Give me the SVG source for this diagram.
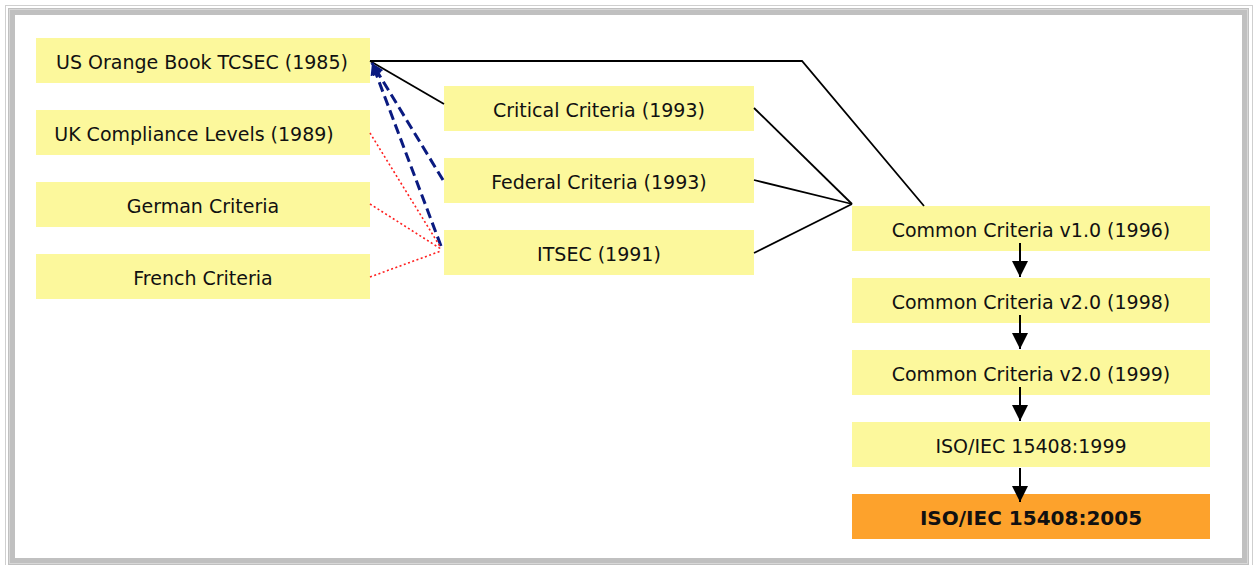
<svg xmlns="http://www.w3.org/2000/svg" width="1259" height="565" viewBox="0 0 1259 565">
  <style>
    .box { fill: #fcf89c; }
    .final { fill: #fda22c; }
    .lbl { font-family: "DejaVu Sans", Verdana, sans-serif; font-size: 19px; fill: #111; text-anchor: middle; }
    .bold { font-weight: bold; font-size: 20px; }
    .solid { fill: none; stroke: #000; stroke-width: 1.8; }
    .dash { fill: none; stroke: #0a1a80; stroke-width: 3; stroke-dasharray: 10 5; }
    .dot { fill: none; stroke: #ff2020; stroke-width: 1.6; stroke-dasharray: 2 2.5; }
    .step { fill: none; stroke: #000; stroke-width: 2; }
  </style>
  <defs>
    <marker id="navyHead" viewBox="0 0 10 10" refX="10" refY="5" markerWidth="4" markerHeight="4" orient="auto" markerUnits="strokeWidth">
      <path d="M0,0 L10,5 L0,10 Z" fill="#0a1a80"/>
    </marker>
    <marker id="blackHead" viewBox="0 0 16 16" refX="16" refY="8" markerWidth="16" markerHeight="16" orient="auto" markerUnits="userSpaceOnUse">
      <path d="M0,0 L16,8 L0,16 Z" fill="#000"/>
    </marker>
  </defs>

  <!-- page frame -->
  <rect x="0" y="0" width="1259" height="565" fill="#fff"/>
  <rect x="5.5" y="5.5" width="1247" height="570" fill="none" stroke="#cfcfcf" stroke-width="1"/>
  <rect x="11.5" y="11.5" width="1234" height="550" fill="none" stroke="#c0c0c0" stroke-width="7"/>
  <rect x="9.5" y="9.5" width="1238" height="554" fill="none" stroke="#d8d8d8" stroke-width="1"/>

  <!-- boxes -->
  <g id="us-orange-book"><rect class="box" x="36" y="38" width="334" height="45"/><text class="lbl" x="202" y="68.5">US Orange Book TCSEC (1985)</text></g>
  <g id="uk-compliance"><rect class="box" x="36" y="110" width="334" height="45"/><text class="lbl" x="194" y="140.5">UK Compliance Levels (1989)</text></g>
  <g id="german-criteria"><rect class="box" x="36" y="182" width="334" height="45"/><text class="lbl" x="203" y="212.5">German Criteria</text></g>
  <g id="french-criteria"><rect class="box" x="36" y="254" width="334" height="45"/><text class="lbl" x="203" y="284.5">French Criteria</text></g>

  <g id="critical-criteria"><rect class="box" x="444" y="86" width="310" height="45"/><text class="lbl" x="599" y="117">Critical Criteria (1993)</text></g>
  <g id="federal-criteria"><rect class="box" x="444" y="158" width="310" height="45"/><text class="lbl" x="599" y="189">Federal Criteria (1993)</text></g>
  <g id="itsec"><rect class="box" x="444" y="230" width="310" height="45"/><text class="lbl" x="599" y="261">ITSEC (1991)</text></g>

  <g id="cc-v1-0"><rect class="box" x="852" y="206" width="358" height="45"/><text class="lbl" x="1031" y="237">Common Criteria v1.0 (1996)</text></g>
  <g id="cc-v2-0-1998"><rect class="box" x="852" y="278" width="358" height="45"/><text class="lbl" x="1031" y="309">Common Criteria v2.0 (1998)</text></g>
  <g id="cc-v2-0-1999"><rect class="box" x="852" y="350" width="358" height="45"/><text class="lbl" x="1031" y="381">Common Criteria v2.0 (1999)</text></g>
  <g id="iso-15408-1999"><rect class="box" x="852" y="422" width="358" height="45"/><text class="lbl" x="1031" y="453">ISO/IEC 15408:1999</text></g>
  <g id="iso-15408-2005"><rect class="final" x="852" y="494" width="358" height="45"/><text class="lbl bold" x="1031" y="525">ISO/IEC 15408:2005</text></g>

  <!-- connectors -->
  <g id="connectors">
    <!-- TCSEC lineage -->
    <polyline class="solid" points="370,61 802,61 924,206"/>
    <line class="solid" x1="370" y1="61" x2="444" y2="104"/>
    <!-- merge into Common Criteria -->
    <line class="solid" x1="754" y1="108" x2="852" y2="204"/>
    <line class="solid" x1="754" y1="180" x2="852" y2="204"/>
    <line class="solid" x1="754" y1="253" x2="852" y2="204"/>
    <!-- influence back to TCSEC -->
    <line class="dash" x1="443" y1="180" x2="372" y2="63" marker-end="url(#navyHead)"/>
    <line class="dash" x1="441" y1="246" x2="372" y2="63" marker-end="url(#navyHead)"/>
    <!-- European criteria into ITSEC -->
    <line class="dot" x1="370" y1="133" x2="441" y2="248"/>
    <line class="dot" x1="370" y1="204" x2="441" y2="249"/>
    <line class="dot" x1="370" y1="277" x2="441" y2="251"/>
    <!-- Common Criteria progression -->
    <line class="step" x1="1020" y1="243" x2="1020" y2="277" marker-end="url(#blackHead)"/>
    <line class="step" x1="1020" y1="315" x2="1020" y2="349" marker-end="url(#blackHead)"/>
    <line class="step" x1="1020" y1="387" x2="1020" y2="421" marker-end="url(#blackHead)"/>
    <line class="step" x1="1020" y1="468" x2="1020" y2="502" marker-end="url(#blackHead)"/>
  </g>
</svg>
